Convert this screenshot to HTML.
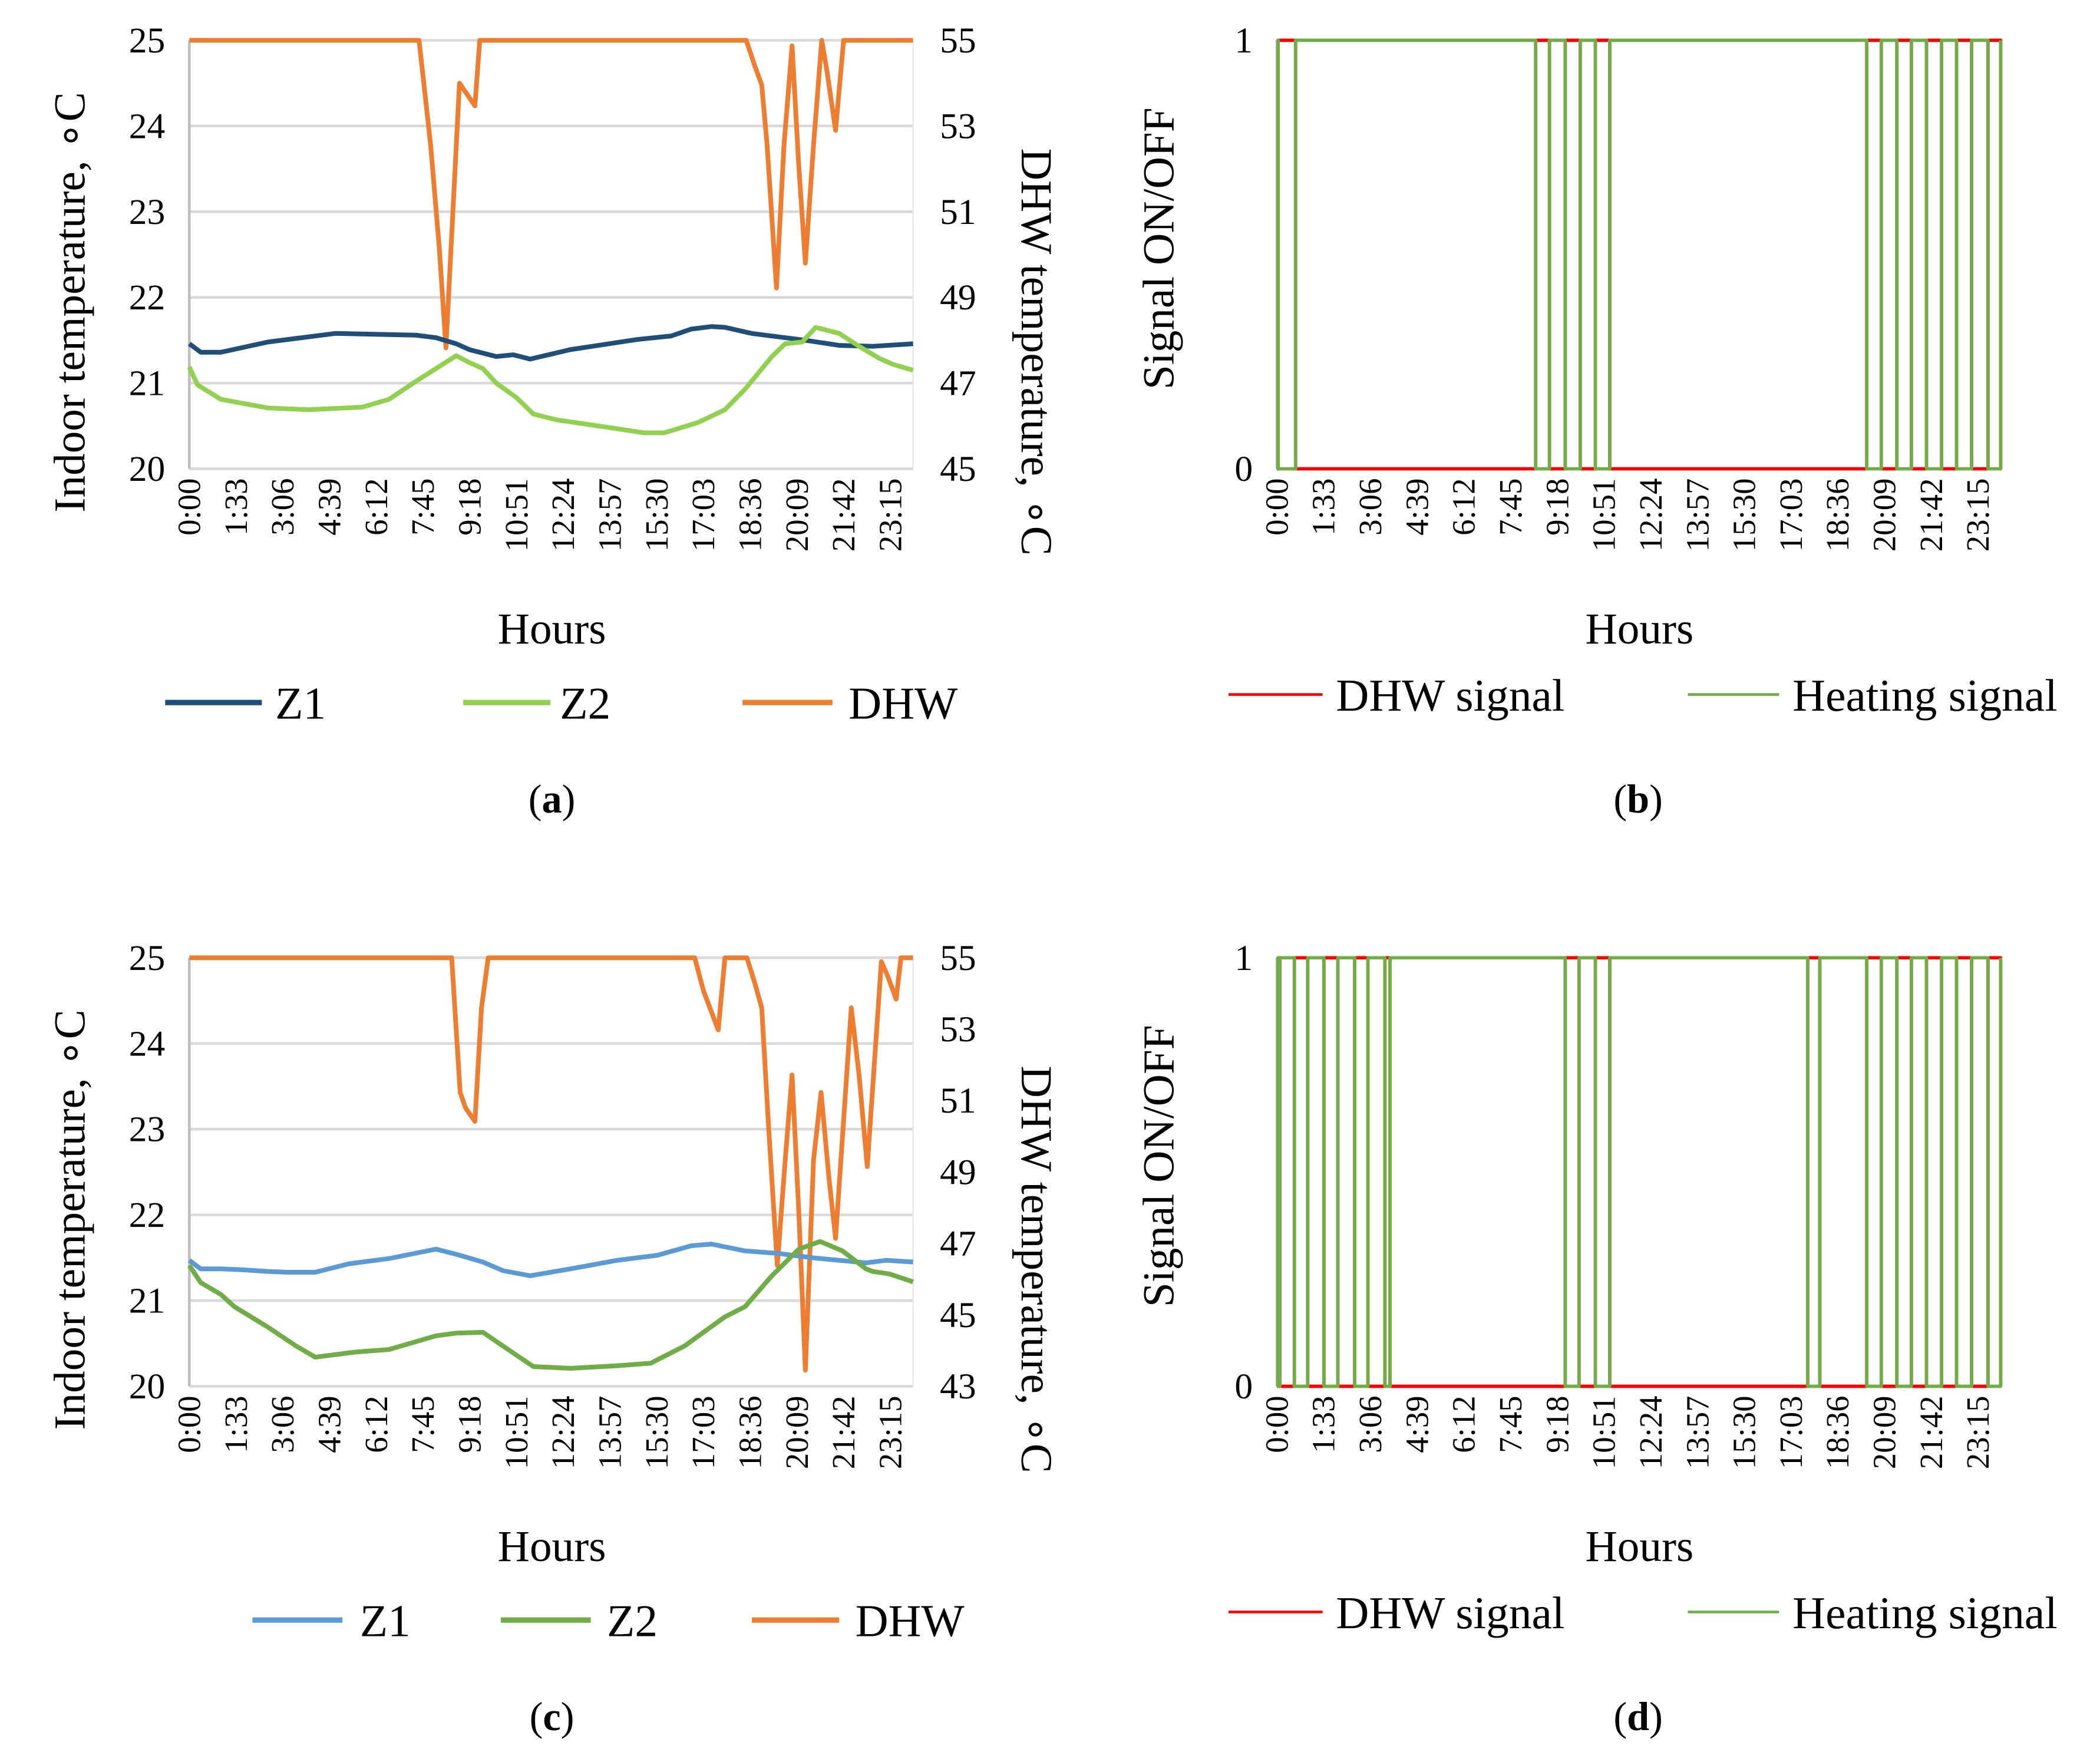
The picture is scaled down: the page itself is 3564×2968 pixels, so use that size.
<!DOCTYPE html>
<html><head><meta charset="utf-8"><style>
html,body{margin:0;padding:0;background:#fff}
svg{display:block}
text{font-family:"Liberation Serif",serif;fill:#000}
</style></head><body>
<svg id="chart" xmlns="http://www.w3.org/2000/svg" width="3564" height="2968" viewBox="0 0 1564 1302" preserveAspectRatio="none"></svg>
<script>
const xTickLabels = ["0:00","1:33","3:06","4:39","6:12","7:45","9:18","10:51","12:24","13:57","15:30","17:03","18:36","20:09","21:42","23:15"];
const aZ1Hours = [0,0.38,1.05,2.61,4.84,7.51,8.18,8.85,9.29,10.18,10.74,11.3,12.63,14.86,15.98,16.64,17.31,17.76,18.65,20.43,21.55,22.66,24];
const aZ1Vals  = [21.46,21.36,21.36,21.48,21.58,21.56,21.53,21.46,21.39,21.31,21.33,21.28,21.39,21.51,21.55,21.63,21.66,21.65,21.58,21.5,21.44,21.43,21.46];
const aZ2Hours = [0,0.27,1.05,2.61,3.94,5.73,6.62,7.51,8.85,9.29,9.74,10.18,10.85,11.41,12.19,13.75,15.08,15.75,16.87,17.76,18.43,19.32,19.76,20.32,20.77,21.55,22.21,22.88,23.33,24];
const aZ2Vals  = [21.19,20.98,20.81,20.71,20.69,20.72,20.81,21.02,21.32,21.24,21.17,21.0,20.83,20.64,20.57,20.49,20.42,20.42,20.54,20.69,20.93,21.31,21.46,21.48,21.65,21.58,21.43,21.29,21.22,21.15];
const aDHWHours = [0,7.62,8.0,8.29,8.51,8.96,9.47,9.63,18.47,18.76,18.98,19.16,19.47,19.72,19.99,20.21,20.43,20.7,20.97,21.14,21.43,21.7,24];
const aDHWVals  = [55,55,52.56,50.14,47.82,54.0,53.47,55,55,54.39,53.96,52.56,49.22,52.56,54.87,52.07,49.8,52.56,55,54.3,52.9,55,55];
const cZ1Hours = [0,0.38,1.05,1.71,2.61,3.28,4.17,5.29,6.62,8.18,8.85,9.74,10.4,11.3,12.63,14.19,15.53,16.64,17.31,18.43,19.54,20.66,22.44,23.11,24];
const cZ1Vals  = [21.47,21.37,21.37,21.36,21.34,21.33,21.33,21.43,21.49,21.6,21.54,21.45,21.35,21.29,21.37,21.47,21.53,21.64,21.66,21.58,21.55,21.5,21.44,21.47,21.45];
const cZ2Hours = [0,0.38,1.05,1.49,2.61,3.5,4.17,5.51,6.62,8.18,8.85,9.74,10.4,11.41,12.63,14.19,15.3,16.42,17.76,18.43,19.32,20.21,20.92,21.66,22.44,22.66,23.22,24];
const cZ2Vals  = [21.41,21.21,21.07,20.93,20.69,20.48,20.34,20.4,20.43,20.59,20.62,20.63,20.47,20.23,20.21,20.24,20.27,20.47,20.81,20.93,21.29,21.6,21.69,21.58,21.37,21.34,21.31,21.22];
const cDHWHours = [0,8.7,8.98,9.16,9.47,9.69,9.91,16.76,17.05,17.54,17.76,18.49,18.76,18.98,19.21,19.5,19.76,19.99,20.21,20.43,20.7,20.95,21.21,21.43,21.95,22.21,22.48,22.95,23.17,23.44,23.6,24];
const cDHWVals  = [55,55,51.23,50.8,50.42,53.6,55,55,54.08,52.98,55,55,54.27,53.6,50.28,46.38,49.34,51.72,47.9,43.45,49.34,51.23,48.86,47.14,53.6,51.72,49.15,54.89,54.46,53.84,55,55];
const aRightTicks = [45,47,49,51,53,55];
const cRightTicks = [43,45,47,49,51,53,55];
const leftTicks = [20,21,22,23,24,25];
const bDhwOnStart = [0.04,8.58,9.56,10.56,19.56,20.56,21.54,22.54,23.58];
const bDhwOnEnd   = [0.62,9.04,10.06,11.04,20.04,21.04,22.04,23.04,24];
const dDhwOnStart = [0.04,0.58,1.56,2.58,3.58,9.56,10.56,17.6,19.56,20.56,21.54,22.54,23.58];
const dDhwOnEnd   = [0.1,1.02,2.02,3.02,3.75,10.02,11.04,18.0,20.04,21.04,22.04,23.04,24];

const svg = document.getElementById('chart');
const NS = 'http://www.w3.org/2000/svg';
function mk(tag, attrs, parent){const e=document.createElementNS(NS,tag);for(const k in attrs)e.setAttribute(k,attrs[k]);(parent||svg).appendChild(e);return e;}
function txt(x,y,s,size,attrs,parent){const t=mk('text',Object.assign({x:x,y:y,'font-size':size},attrs||{}),parent);t.textContent=s;return t;}
function xAxis(x0,x1){return h=>x0+(x1-x0)*h/24;}
function yAxis(y0,y1,v0,v1){return v=>y0+(y1-y0)*(v-v0)/(v1-v0);}

function drawFrame(g,x0,x1,yTop,yBot,gridVals,yf,rightVals,yr){
  gridVals.forEach(v=>{
    const y=yf(v);
    const gl=mk('line',{x1:x0,x2:x1,y1:y,y2:y,stroke:'#d9d9d9','stroke-width':2},g);
    
    
    const t=txt(x0-18,y+9,String(v),27,{'text-anchor':'end'},g);
    
    
  });
  if(rightVals){
    rightVals.forEach(v=>{
      const r=txt(700,yr(v)+9,String(v),27,{'text-anchor':'start'},g);
      
      
    });
  }
  const ax=mk('line',{x1:x0,x2:x0,y1:yTop,y2:yBot,stroke:'#bfbfbf','stroke-width':2},g);
  
  
  const ax2=mk('line',{x1:x1,x2:x1,y1:yTop,y2:yBot,stroke:'#e6e6e6','stroke-width':1},g);
  
  
  const xf=xAxis(x0,x1);
  xTickLabels.forEach((s,i)=>{
    const x=xf(i*1.55)+8;
    const t=txt(0,0,s,24,{'text-anchor':'end',transform:`translate(${x},${yBot+7}) rotate(-90)`},g);
    
    
  });
}
function poly(g,hours,vals,xf,yf,color,w,name){
  const pts=hours.map((h,i)=>xf(h).toFixed(1)+','+yf(vals[i]).toFixed(1)).join(' ');
  const p=mk('polyline',{points:pts,fill:'none',stroke:color,'stroke-width':w,'stroke-linejoin':'round'},g);
  
  
}
function legend(g,y,items){
  items.forEach(it=>{
    const l=mk('line',{x1:it.x1,x2:it.x2,y1:y,y2:y,stroke:it.c,'stroke-width':it.w},g);
    
    
    const t=txt(it.tx,y+12,it.s,34,{},g);
    
    
  });
}
function caption(g,x,y,letter){
  const t=mk('text',{x:x,y:y,'font-size':30,'text-anchor':'middle'},g);
  
  
  t.appendChild(document.createTextNode('('));
  const b=mk('tspan',{'font-weight':'bold'},t);b.textContent=letter;
  t.appendChild(document.createTextNode(')'));
}
function tempPanel(id,top,rmin,rticks,Z1,Z2,DHW,cz1,cz2,legItems,letter){
  const g=mk('g',{});
  
  
  const x0=141,x1=680,yT=top,yB=top+319;
  const yf=yAxis(yB,yT,20,25), yr=yAxis(yB,yT,rmin,55), xf=xAxis(x0,x1);
  drawFrame(g,x0,x1,yT,yB,leftTicks,yf,rticks,yr);
  poly(g,DHW[0],DHW[1],xf,yr,'#ed7d31',3.5,'dhw-line');
  poly(g,Z1[0],Z1[1],xf,yf,cz1,3.5,'z1-line');
  poly(g,Z2[0],Z2[1],xf,yf,cz2,3.5,'z2-line');
  const yt=txt(0,0,'Indoor temperature, ∘C',33,{'text-anchor':'middle',transform:`translate(63,${top+195}) rotate(-90)`},g);
  
  
  const rt=txt(0,0,'DHW temperature, ∘C',33,{'text-anchor':'middle',transform:`translate(761,${top+232}) rotate(90)`},g);
  
  
  const xt=txt(411,top+449,'Hours',33,{'text-anchor':'middle'},g);
  
  
  legend(g,top+493,legItems);
  caption(g,411,top+575,letter);
}
function stepLine(starts,ends,on){
  const h=[0],v=[on?0:1];
  starts.forEach((s,i)=>{h.push(s,s,ends[i],ends[i]);v.push(on?0:1,on?1:0,on?1:0,on?0:1);});
  h.push(24);v.push(on?0:1);
  return [h,v];
}
function sigPanel(id,top,starts,ends,letter){
  const g=mk('g',{});
  
  
  const x0=951,x1=1490,yT=top,yB=top+319;
  const yf=yAxis(yB,yT,0,1), xf=xAxis(x0,x1);
  drawFrame(g,x0,x1,yT,yB,[0,1],yf,null,null);
  const d=stepLine(starts,ends,true), hts=stepLine(starts,ends,false);
  poly(g,d[0],d[1],xf,yf,'#ff0000',2.5,'dhw-signal-line');
  poly(g,hts[0],hts[1],xf,yf,'#70ad47',2.5,'heating-signal-line');
  const yt=txt(0,0,'Signal ON/OFF',33,{'text-anchor':'middle',transform:`translate(874,${top+155}) rotate(-90)`},g);
  
  
  const xt=txt(1221,top+449,'Hours',33,{'text-anchor':'middle'},g);
  
  
  legend(g,top+487,[{x1:915,x2:985,c:'#ff0000',w:2,tx:995,s:'DHW signal'},{x1:1257,x2:1325,c:'#70ad47',w:2,tx:1335,s:'Heating signal'}]);
  caption(g,1220,top+575,letter);
}
tempPanel('a',30,45,aRightTicks,[aZ1Hours,aZ1Vals],[aZ2Hours,aZ2Vals],[aDHWHours,aDHWVals],'#1f4e79','#92d050',
  [{x1:123,x2:195,c:'#1f4e79',w:4,tx:205,s:'Z1'},{x1:345,x2:410,c:'#92d050',w:4,tx:417,s:'Z2'},{x1:553,x2:620,c:'#ed7d31',w:4,tx:632,s:'DHW'}],'a');
tempPanel('c',713,43,cRightTicks,[cZ1Hours,cZ1Vals],[cZ2Hours,cZ2Vals],[cDHWHours,cDHWVals],'#5b9bd5','#70ad47',
  [{x1:188,x2:255,c:'#5b9bd5',w:4,tx:268,s:'Z1'},{x1:373,x2:440,c:'#70ad47',w:4,tx:452,s:'Z2'},{x1:560,x2:625,c:'#ed7d31',w:4,tx:637,s:'DHW'}],'c');
sigPanel('b',30,bDhwOnStart,bDhwOnEnd,'b');
sigPanel('d',713,dDhwOnStart,dDhwOnEnd,'d');
</script>
</body></html>
